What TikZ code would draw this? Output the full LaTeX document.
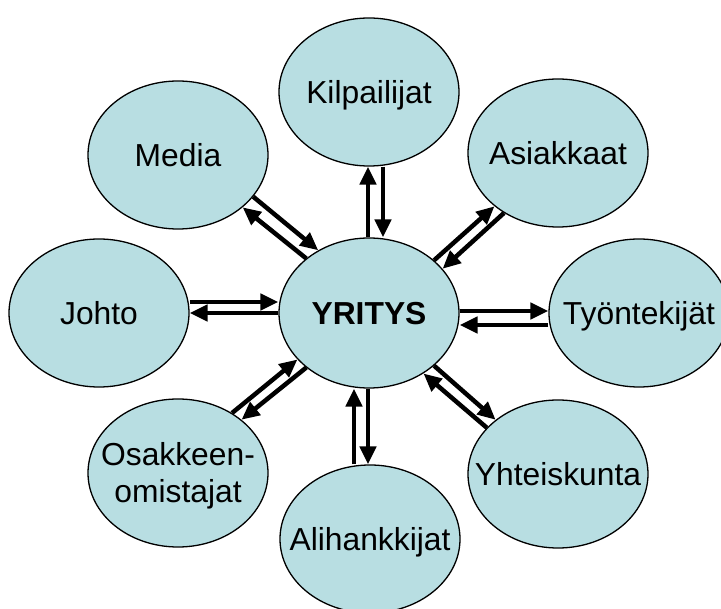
\documentclass[tikz,border=0pt]{standalone}
\usepackage{fontspec}
\setmainfont{Liberation Sans}
\usetikzlibrary{arrows.meta,shapes.geometric}
\definecolor{cfill}{RGB}{184,222,226}
\newcommand\lbl[1]{\makebox[0pt]{\raisebox{0pt}[22.5pt][0pt]{#1}}}
\begin{document}
\begin{tikzpicture}[x=1pt,y=-1pt,
  sat/.style={ellipse, draw=black, line width=1.3pt, fill=cfill,
    minimum width=180pt, minimum height=148pt, inner sep=0pt,
    font=\fontsize{31.8}{37}\selectfont},
  arr/.style={line width=4.5pt, -{Triangle[length=18pt,width=16pt]}}]
\useasboundingbox (0,0) rectangle (721,609);
\clip (0,0) rectangle (721,609);
\fill[white] (0,0) rectangle (721,609);

\node[sat, minimum height=150pt] (yr) at (369,313) {\lbl{\bfseries YRITYS}};
\node[sat] (kil) at (369,92)  {\lbl{Kilpailijat}};
\node[sat] (med) at (178,155) {\lbl{Media}};
\node[sat] (asi) at (558,153) {\lbl{Asiakkaat}};
\node[sat] (joh) at (99,313)  {\lbl{Johto}};
\node[sat] (tyo) at (639,313) {\lbl{Työntekijät}};
\node[sat] (osa) at (178,473) {\makebox[0pt]{\raisebox{0pt}[59.5pt][0pt]{\begin{tabular}[b]{@{}c@{}}Osakkeen-\\omistajat\end{tabular}}}};
\node[sat] (ali) at (370,539) {\lbl{Alihankkijat}};
\node[sat] (yht) at (558,474) {\lbl{Yhteiskunta}};

% Kilpailijat
\draw[arr] ([xshift=-1pt]yr.north) -- ([xshift=-1pt]kil.south);
\draw[arr] ([xshift=14pt]kil.south) -- ([xshift=14pt]yr.north);
% Alihankkijat
\draw[arr] ([xshift=-16pt]ali.north) -- ([xshift=-15pt]yr.south);
\draw[arr] ([xshift=-1pt]yr.south) -- ([xshift=-2pt]ali.north);
% Johto
\draw[arr] ([yshift=11pt]joh.east) -- ([yshift=11pt]yr.west);
\draw[arr] (yr.west) -- (joh.east);
% Tyontekijat
\draw[arr] ([yshift=2pt]yr.east) -- ([yshift=2pt]tyo.west);
\draw[arr] ([yshift=-12pt]tyo.west) -- ([yshift=-12pt]yr.east);
% Media
\draw[arr] (med.-29.1) -- (yr.129.2);
\draw[arr] (yr.139.6) -- (med.-39.5);
% Asiakkaat
\draw[arr] (yr.39.5) -- (asi.-140.2);
\draw[arr] (asi.-132.2) -- (yr.31.0);
% Yhteiskunta
\draw[arr] (yr.-39.9) -- (yht.139.2);
\draw[arr] (yht.147.3) -- (yr.-48.8);
% Osakkeenomistajat
\draw[arr] (osa.48.7) -- (yr.-147.6);
\draw[arr] (yr.-139.9) -- (osa.40.8);
\end{tikzpicture}
\end{document}
